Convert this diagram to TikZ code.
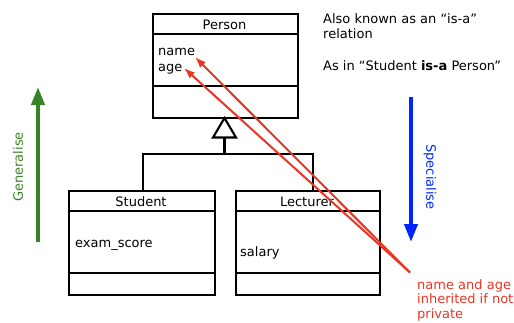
\documentclass[tikz,border=0pt]{standalone}
\usepackage{fontspec}
\setmainfont{DejaVu Sans}
\usetikzlibrary{arrows.meta,calc}
\definecolor{gengreen}{RGB}{58,130,38}
\definecolor{specblue}{RGB}{0,36,255}
\definecolor{inhred}{RGB}{234,52,36}
\begin{document}
\begin{tikzpicture}[x=1pt,y=-1pt,
  txt/.style={inner sep=0pt,font=\fontsize{13pt}{15pt}\selectfont},
  classbox/.style={draw=black,line width=2.1pt,fill=white,inner sep=0pt,anchor=north west},
  sepline/.style={draw=black,line width=2.1pt},
  inherit/.style={draw=black,line width=2.1pt},
  redarrow/.style={draw=inhred,line width=2pt,-{Latex[length=11pt,width=8pt]}}
]
\useasboundingbox (0,0) rectangle (514,322);

% class boxes
\node[classbox,minimum width=145pt,minimum height=104pt] (person) at (152,13) {};
\node[classbox,minimum width=146pt,minimum height=104pt] (student) at (68,190) {};
\node[classbox,minimum width=144pt,minimum height=104pt] (lecturer) at (235,190) {};

% compartment separators
\draw[sepline] (152,34) -- (297,34);
\draw[sepline] (152,86) -- (297,86);
\draw[sepline] (68,211) -- (214,211);
\draw[sepline] (68,273) -- (214,273);
\draw[sepline] (235,211) -- (379,211);
\draw[sepline] (235,273) -- (379,273);

% class names and attributes
\node[txt,anchor=base] (pname) at (224.5,29) {Person};
\node[txt,anchor=base west] (pattr1) at (158,55) {name};
\node[txt,anchor=base west] (pattr2) at (158,71) {age};
\node[txt,anchor=base] (sname) at (141,206) {Student};
\node[txt,anchor=base west] (sattr) at (75,247) {exam\_score};
\node[txt,anchor=base] (lname) at (307,206) {Lecturer};
\node[txt,anchor=base west] (lattr) at (240,256) {salary};

% generalisation connector with hollow triangle
\coordinate (tribase) at (224.5,137.5);
\coordinate (join) at (224.5,154);
\coordinate (sjoin) at (143,154);
\coordinate (ljoin) at (313,154);
\draw[inherit] (sjoin |- student.north) -- (sjoin) -- (ljoin) -- (ljoin |- lecturer.north);
\draw[inherit] (join) -- (tribase);
\draw[inherit,fill=white,line join=miter] (224.5,118) -- (236,137.5) -- (213,137.5) -- cycle;

% explanatory text
\node[txt,anchor=base west] (note1) at (323,23.5) {Also known as an “is-a”};
\node[txt,anchor=base west] (note2) at (323,38.5) {relation};
\node[txt,anchor=base west] (note3) at (323,70) {As in “Student \textbf{is-a} Person”};

% generalise / specialise arrows
\coordinate (gbot) at (38,242);
\coordinate (gtop) at (38,87);
\draw[gengreen,line width=4pt,-{Triangle[length=18pt,width=13pt]}] (gbot) -- (gtop);
\node[txt,text=gengreen,rotate=90] (glabel) at (18,167) {Generalise};
\coordinate (stop) at (411,97);
\coordinate (sbot) at (411,242);
\draw[specblue,line width=4pt,-{Triangle[length=18pt,width=13pt]}] (stop) -- (sbot);
\node[txt,text=specblue,rotate=-90] (slabel) at (430,177) {Specialise};

% inherited attributes
\coordinate (redfrom) at (410,272.5);
\coordinate (nametip) at (195,57);
\coordinate (agetip) at (184,68);
\draw[redarrow] (redfrom) -- (nametip);
\draw[redarrow] (redfrom) -- (agetip);
\node[txt,text=inhred,anchor=base west] (r1) at (417,289) {name and age};
\node[txt,text=inhred,anchor=base west] (r2) at (417,303.5) {inherited if not};
\node[txt,text=inhred,anchor=base west] (r3) at (417,318) {private};
\end{tikzpicture}
\end{document}
